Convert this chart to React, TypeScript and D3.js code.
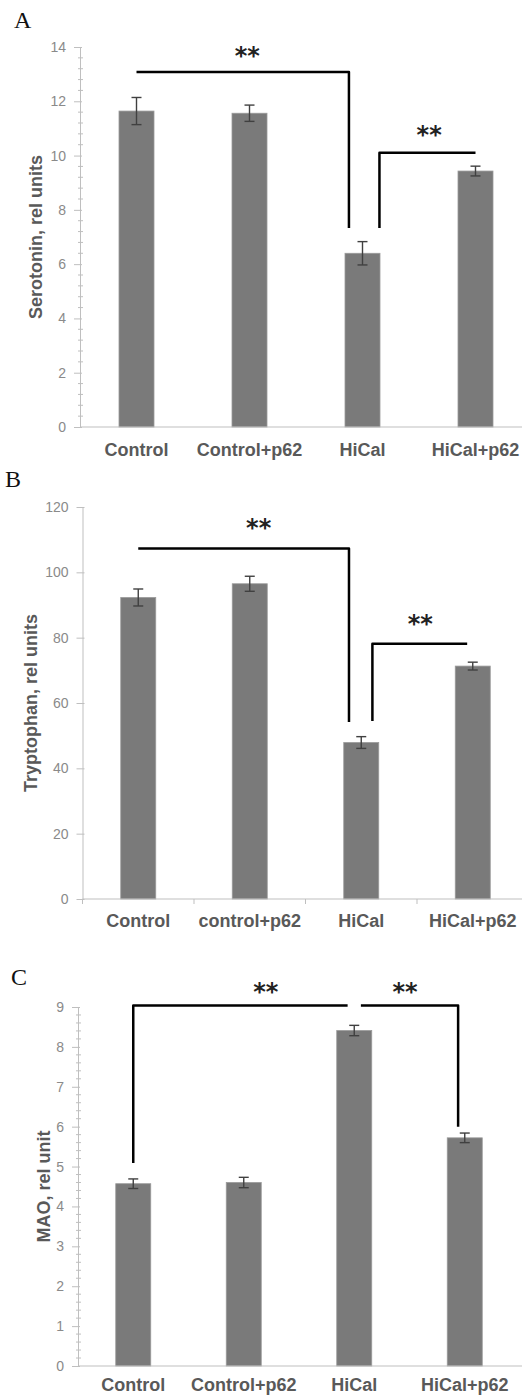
import React, { useEffect, useRef } from 'react'
import * as d3 from 'd3'

const W = 522
const H = 1397

// categories
const catsA = ['Control', 'Control+p62', 'HiCal', 'HiCal+p62']
const catsB = ['Control', 'control+p62', 'HiCal', 'HiCal+p62']
const catsC = ['Control', 'Control+p62', 'HiCal', 'HiCal+p62']

// values
const serotonin = [11.64, 11.56, 6.4, 9.43]
const serotoninErr = [0.5, 0.3, 0.43, 0.18]
const tryptophan = [92.3, 96.5, 47.9, 71.3]
const tryptophanErr = [2.6, 2.3, 1.8, 1.2]
const mao = [4.57, 4.6, 8.41, 5.72]
const maoErr = [0.12, 0.13, 0.13, 0.12]

// tick labels
const ticksA = [0, 2, 4, 6, 8, 10, 12, 14]
const ticksB = [0, 20, 40, 60, 80, 100, 120]
const ticksC = [0, 1, 2, 3, 4, 5, 6, 7, 8, 9]

// significance brackets: [category position, value]
const bracketsA = [
  [[0, 13.08], [1.88, 13.08], [1.88, 7.33]],
  [[2.15, 7.33], [2.15, 10.1], [3, 10.1]]
]
const starsA = [[0.98, 13.9], [2.59, 11.0]]
const bracketsB = [
  [[0, 107.3], [1.89, 107.3], [1.89, 54.2]],
  [[2.1, 54.5], [2.1, 78.1], [2.95, 78.1]]
]
const starsB = [[1.08, 115.4], [2.53, 86.0]]
const bracketsC = [
  [[0, 5.09], [0, 9.04], [1.94, 9.04]],
  [[2.06, 9.04], [2.94, 9.04], [2.94, 6.0]]
]
const starsC = [[1.2, 9.53], [2.46, 9.53]]

const panels = [
  {
    letter: 'A', letterPos: [14, 28],
    cats: catsA, values: serotonin, errs: serotoninErr, ticks: ticksA,
    minor: 0.4, domain: [0, 14], yRange: [427, 47], xStart: 80, step: 113,
    title: 'Serotonin, rel units', titleX: 42, catGap: 29,
    brackets: bracketsA, stars: starsA, xTicks: false
  },
  {
    letter: 'B', letterPos: [5, 487],
    cats: catsB, values: tryptophan, errs: tryptophanErr, ticks: ticksB,
    minor: 0, domain: [0, 120], yRange: [899, 507], xStart: 82.5, step: 111.5,
    title: 'Tryptophan, rel units', titleX: 37, catGap: 28,
    brackets: bracketsB, stars: starsB, xTicks: true
  },
  {
    letter: 'C', letterPos: [11, 985],
    cats: catsC, values: mao, errs: maoErr, ticks: ticksC,
    minor: 0.2, domain: [0, 9], yRange: [1366, 1007], xStart: 78, step: 110.5,
    title: 'MAO, rel unit', titleX: 50, catGap: 25,
    brackets: bracketsC, stars: starsC, xTicks: false
  }
]

const axisColor = '#bfbfbf'
const labelColor = '#595959'

export default function App() {
  const node = useRef<SVGSVGElement>(null)

  useEffect(() => {
    const svg = d3.select(node.current)
    svg.selectAll('*').remove()

    panels.forEach(p => {
      const g = svg.append('g')

      const x = d3.scaleBand()
        .domain(p.cats)
        .range([p.xStart, p.xStart + p.step * p.cats.length])
        .paddingInner(0)
      const bw = x.bandwidth()
      // fractional category position -> pixel
      const pos = d3.scaleLinear()
        .domain([0, 1])
        .range([x(p.cats[0])! + bw / 2, x(p.cats[1])! + bw / 2])

      const y = d3.scaleLinear().domain(p.domain).range(p.yRange)
      const barW = 35

      // panel letter
      g.append('text')
        .attr('x', p.letterPos[0])
        .attr('y', p.letterPos[1])
        .attr('font-family', '"Liberation Serif", serif')
        .attr('font-size', 24)
        .attr('fill', '#111')
        .text(p.letter)

      // bars
      g.append('g')
        .selectAll('rect')
        .data(p.values)
        .join('rect')
          .attr('x', (d, i) => x(p.cats[i])! + bw / 2 - barW / 2)
          .attr('y', d => y(d))
          .attr('width', barW)
          .attr('height', d => y(0) - y(d))
          .attr('fill', '#7a7a7a')
          .attr('stroke', '#9a9a9a')
          .attr('stroke-width', 0.8)

      // error bars
      const eb = g.append('g')
        .attr('stroke', '#404040')
        .attr('stroke-width', 1.4)
        .attr('fill', 'none')
      p.values.forEach((v, i) => {
        const cx = x(p.cats[i])! + bw / 2
        const e = p.errs[i]
        eb.append('line').attr('x1', cx).attr('x2', cx).attr('y1', y(v + e)).attr('y2', y(v - e))
        eb.append('line').attr('x1', cx - 5).attr('x2', cx + 5).attr('y1', y(v + e)).attr('y2', y(v + e))
        eb.append('line').attr('x1', cx - 5).attr('x2', cx + 5).attr('y1', y(v - e)).attr('y2', y(v - e))
      })

      // y axis
      const yAxis = g.append('g')
        .attr('transform', `translate(${p.xStart},0)`)
        .call(d3.axisLeft(y).tickValues(p.ticks).tickSize(6).tickSizeOuter(0).tickPadding(8))
      yAxis.select('.domain').attr('stroke', axisColor)
      yAxis.selectAll('.tick line').attr('stroke', axisColor).attr('x2', -6).attr('x1', 2)
      yAxis.selectAll('.tick text')
        .attr('fill', '#8a8a8a')
        .attr('font-size', 14)
        .attr('font-family', '"Liberation Sans", Arial, sans-serif')
      if (p.minor > 0) {
        const n = Math.round((p.domain[1] - p.domain[0]) / p.minor)
        const minors = d3.range(n + 1).map(k => p.domain[0] + k * p.minor)
          .filter(v => !p.ticks.some(t => Math.abs(t - v) < 1e-6))
        yAxis.append('g')
          .selectAll('line')
          .data(minors)
          .join('line')
            .attr('x1', -2).attr('x2', 3)
            .attr('y1', d => y(d)).attr('y2', d => y(d))
            .attr('stroke', axisColor)
      }

      // x axis
      g.append('line')
        .attr('x1', p.xStart).attr('x2', W)
        .attr('y1', y(0)).attr('y2', y(0))
        .attr('stroke', axisColor)
      if (p.xTicks) {
        g.append('g')
          .selectAll('line')
          .data(d3.range(p.cats.length + 1))
          .join('line')
            .attr('x1', i => p.xStart + i * bw).attr('x2', i => p.xStart + i * bw)
            .attr('y1', y(0)).attr('y2', y(0) + 5)
            .attr('stroke', axisColor)
      }

      // category labels
      g.append('g')
        .selectAll('text')
        .data(p.cats)
        .join('text')
          .attr('x', d => x(d)! + bw / 2)
          .attr('y', y(0) + p.catGap)
          .attr('text-anchor', 'middle')
          .attr('font-family', '"Liberation Sans", Arial, sans-serif')
          .attr('font-weight', 'bold')
          .attr('font-size', 18)
          .attr('fill', labelColor)
          .text(d => d)

      // y title
      const ym = (p.yRange[0] + p.yRange[1]) / 2
      g.append('text')
        .attr('transform', `translate(${p.titleX},${ym}) rotate(-90)`)
        .attr('text-anchor', 'middle')
        .attr('font-family', '"Liberation Sans", Arial, sans-serif')
        .attr('font-weight', 'bold')
        .attr('font-size', 18)
        .attr('fill', labelColor)
        .text(p.title)

      // brackets
      const line = d3.line<number[]>()
        .x(d => pos(d[0]))
        .y(d => y(d[1]))
      g.append('g')
        .selectAll('path')
        .data(p.brackets)
        .join('path')
          .attr('d', d => line(d))
          .attr('fill', 'none')
          .attr('stroke', '#000')
          .attr('stroke-width', 2.5)
          .attr('stroke-linejoin', 'round')

      g.append('g')
        .selectAll('text')
        .data(p.stars)
        .join('text')
          .attr('x', d => pos(d[0]))
          .attr('y', d => y(d[1]))
          .attr('dy', '0.6em')
          .attr('text-anchor', 'middle')
          .attr('font-family', '"DejaVu Sans", sans-serif')
          .attr('font-weight', 'bold')
          .attr('font-size', 24)
          .attr('fill', '#222')
          .text('**')
    })
  }, [])

  return (
    <svg
      ref={node}
      width={W}
      height={H}
      viewBox={`0 0 ${W} ${H}`}
      style={{ position: 'absolute', left: 0, top: 0, background: '#fff' }}
    />
  )
}
